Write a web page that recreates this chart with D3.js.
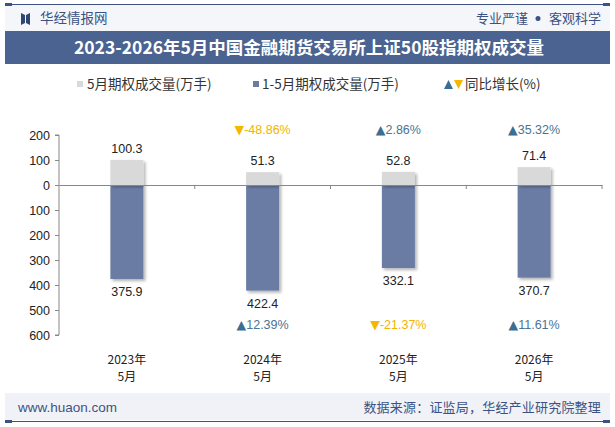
<!DOCTYPE html>
<html>
<head>
<meta charset="utf-8">
<script src="https://cdn.jsdelivr.net/npm/d3@7"></script>
<style>
  body { margin: 0; background: #fff; }
  svg { display: block; font-family: "Noto Sans CJK SC", "Noto Sans", sans-serif; }
</style>
</head>
<body>
<div id="chart"></div>
<script>
// data
var categories = ["2023年\n5月", "2024年\n5月", "2025年\n5月", "2026年\n5月"];
var monthVol = [100.3, 51.3, 52.8, 71.4];      // 5月期权成交量(万手)
var ytdVol = [375.9, 422.4, 332.1, 370.7];     // 1-5月期权成交量(万手)
var monthGrowth = [null, -48.86, 2.86, 35.32]; // 同比增长(%)
var ytdGrowth = [null, 12.39, -21.37, 11.61];
var yTicks = [200, 100, 0, -100, -200, -300, -400, -500, -600];

var width = 615, height = 427;
var svg = d3.select("#chart").append("svg")
    .attr("width", width)
    .attr("height", height);

var defs = svg.append("defs");
var f = defs.append("filter").attr("id", "shadow")
    .attr("x", "-20%").attr("y", "-20%").attr("width", "150%").attr("height", "150%");
f.append("feDropShadow").attr("dx", 2).attr("dy", 2).attr("stdDeviation", 1.5)
    .attr("flood-color", "#000").attr("flood-opacity", 0.3);

// header
svg.append("rect").attr("x", 5).attr("y", 5).attr("width", 605).attr("height", 26).attr("fill", "#f4f6fa");
svg.append("line").attr("x1", 5).attr("x2", 610).attr("y1", 4.5).attr("y2", 4.5)
    .attr("stroke", "#3d5282").attr("stroke-width", 1);
svg.append("rect").attr("x", 5).attr("y", 3).attr("width", 7).attr("height", 3).attr("fill", "#3d5282");
svg.append("rect").attr("x", 603).attr("y", 3).attr("width", 7).attr("height", 3).attr("fill", "#3d5282");
// logo icon
svg.append("path").attr("d", "M21,13 L25,15 L25,23 L21,25 Z M26,15 L30,13 L30,25 L26,23 Z").attr("fill", "#2f4574");
svg.append("text").attr("x", 40).attr("y", 23).attr("font-size", 13.5).attr("fill", "#3d5282").text("华经情报网");
svg.append("text").attr("x", 476).attr("y", 23).attr("font-size", 13).attr("fill", "#3d5282").text("专业严谨");
svg.append("circle").attr("cx", 538).attr("cy", 18.5).attr("r", 2.5).attr("fill", "#3d5282");
svg.append("text").attr("x", 601).attr("y", 23).attr("text-anchor", "end").attr("font-size", 13)
    .attr("fill", "#3d5282").text("客观科学");

// title band
svg.append("rect").attr("x", 5).attr("y", 31).attr("width", 605).attr("height", 33).attr("fill", "#4a6391");
svg.append("text").attr("x", 309).attr("y", 54).attr("text-anchor", "middle")
    .attr("font-size", 17.5).attr("font-weight", "bold").attr("fill", "#fff")
    .text("2023-2026年5月中国金融期货交易所上证50股指期权成交量");

// legend
var lg = svg.append("g").attr("font-size", 13.5).attr("fill", "#333");
lg.append("rect").attr("x", 77).attr("y", 81).attr("width", 6).attr("height", 6).attr("fill", "#d9d9d9");
lg.append("text").attr("x", 87).attr("y", 89).text("5月期权成交量(万手)");
lg.append("rect").attr("x", 253).attr("y", 81).attr("width", 6).attr("height", 6).attr("fill", "#6a7ca4");
lg.append("text").attr("x", 262).attr("y", 89).text("1-5月期权成交量(万手)");
lg.append("path").attr("d", "M444,89 L448.5,80 L453,89 Z").attr("fill", "#3b6e93");
lg.append("path").attr("d", "M454,80 L463,80 L458.5,89 Z").attr("fill", "#f5b700");
lg.append("text").attr("x", 465).attr("y", 89).text("同比增长(%)");

// scales
var x = d3.scaleBand().domain(d3.range(categories.length)).range([59, 602]);
var y = d3.scaleLinear().domain([-600, 200]).range([335, 135]);
var barW = 33;

// y axis
var yAxis = svg.append("g").attr("transform", "translate(59,0)")
    .call(d3.axisLeft(y).tickValues(yTicks).tickSize(4).tickFormat(function (d) { return Math.abs(d); }));
yAxis.select(".domain").attr("stroke", "#888").attr("d", "M-4," + y(200) + "H0V" + y(-600) + "H-4");
yAxis.selectAll(".tick line").attr("stroke", "#888");
yAxis.selectAll(".tick text").attr("font-size", 12.5).attr("fill", "#222")
    .attr("font-family", "Liberation Sans, Arial, sans-serif").attr("x", -9);

// bars
var g = svg.append("g");
g.selectAll(".ytd").data(ytdVol).join("rect")
    .attr("class", "ytd")
    .attr("x", function (d, i) { return x(i) + x.bandwidth() / 2 - barW / 2; })
    .attr("y", y(0))
    .attr("width", barW)
    .attr("height", function (d) { return y(-d) - y(0); })
    .attr("fill", "#6a7ca4")
    .attr("filter", "url(#shadow)");
g.selectAll(".mon").data(monthVol).join("rect")
    .attr("class", "mon")
    .attr("x", function (d, i) { return x(i) + x.bandwidth() / 2 - barW / 2; })
    .attr("y", function (d) { return y(d); })
    .attr("width", barW)
    .attr("height", function (d) { return y(0) - y(d); })
    .attr("fill", "#d9d9d9")
    .attr("filter", "url(#shadow)");

// x axis line
var xAxis = svg.append("g").attr("transform", "translate(0," + y(0) + ")")
    .call(d3.axisBottom(x).tickSize(0).tickFormat(""));
xAxis.select(".domain").attr("stroke", "#888");
svg.append("g").selectAll("line").data(d3.range(1, categories.length + 1)).join("line")
    .attr("x1", function (i) { return x.range()[0] + i * x.step(); })
    .attr("x2", function (i) { return x.range()[0] + i * x.step(); })
    .attr("y1", y(0)).attr("y2", y(0) + 4)
    .attr("stroke", "#888");

// value labels
var num = "Liberation Sans, Arial, sans-serif";
g.selectAll(".mlab").data(monthVol).join("text")
    .attr("x", function (d, i) { return x(i) + x.bandwidth() / 2; })
    .attr("y", function (d) { return y(d) - 7; })
    .attr("text-anchor", "middle").attr("font-size", 12.5).attr("font-family", num).attr("fill", "#222")
    .text(function (d) { return d.toFixed(1); });
g.selectAll(".ylab").data(ytdVol).join("text")
    .attr("x", function (d, i) { return x(i) + x.bandwidth() / 2; })
    .attr("y", function (d) { return y(-d) + 17; })
    .attr("text-anchor", "middle").attr("font-size", 12.5).attr("font-family", num).attr("fill", "#222")
    .text(function (d) { return d.toFixed(1); });

// growth labels
function growth(data, yy) {
  var sel = g.selectAll(null).data(data.map(function (d, i) { return { v: d, i: i }; })
      .filter(function (d) { return d.v !== null; }))
    .join("text")
    .attr("x", function (d) { return x(d.i) + x.bandwidth() / 2; })
    .attr("y", yy)
    .attr("text-anchor", "middle").attr("font-size", 12.5).attr("font-family", num)
    .attr("fill", function (d) { return d.v < 0 ? "#f0b400" : "#4a7394"; });
  sel.append("tspan").attr("font-family", "DejaVu Sans")
    .attr("fill", function (d) { return d.v < 0 ? "#f5b700" : "#3b6e93"; })
    .text(function (d) { return d.v < 0 ? "▼" : "▲"; });
  sel.append("tspan").text(function (d) { return d.v.toFixed(2) + "%"; });
}
growth(monthGrowth, 134);
growth(ytdGrowth, 329);

// category labels (two lines each)
[0, 1].forEach(function (k) {
  svg.append("g").selectAll("text").data(categories).join("text")
      .attr("x", function (d, i) { return x(i) + x.bandwidth() / 2; })
      .attr("y", 364 + k * 17)
      .attr("text-anchor", "middle").attr("font-size", 12).attr("fill", "#222")
      .text(function (d) { return d.split("\n")[k]; });
});

// footer
svg.append("rect").attr("x", 5).attr("y", 393).attr("width", 605).attr("height", 27).attr("fill", "#f0f2f7");
svg.append("line").attr("x1", 5).attr("x2", 610).attr("y1", 421.5).attr("y2", 421.5)
    .attr("stroke", "#3d5282").attr("stroke-width", 1.2);
svg.append("rect").attr("x", 5).attr("y", 420).attr("width", 7).attr("height", 3).attr("fill", "#3d5282");
svg.append("rect").attr("x", 603).attr("y", 420).attr("width", 7).attr("height", 3).attr("fill", "#3d5282");
svg.append("text").attr("x", 18).attr("y", 412).attr("font-size", 13.5).attr("font-family", num)
    .attr("fill", "#3d5282").text("www.huaon.com");
svg.append("text").attr("x", 601).attr("y", 412).attr("text-anchor", "end").attr("font-size", 13)
    .attr("letter-spacing", 0.2).attr("fill", "#3d5282").text("数据来源：证监局，华经产业研究院整理");
</script>
</body>
</html>
